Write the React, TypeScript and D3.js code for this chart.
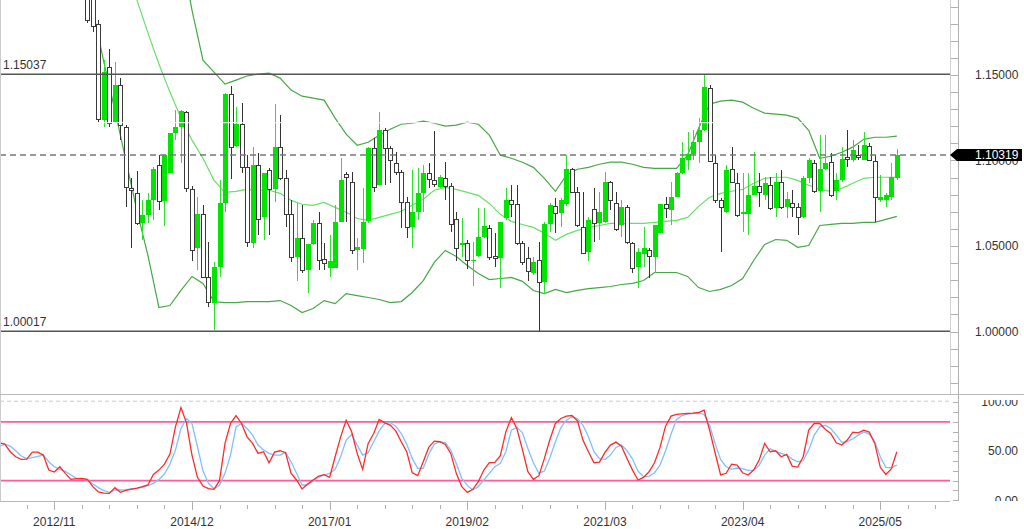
import * as d3 from "d3";

// months are counted from 2012/11 (index 0)
const firstCandle = 6;
const opens = [
  1.2027, 1.1968, 1.1798, 1.1236, 1.1541, 1.1224, 1.1441, 1.1195, 1.0837, 1.0808,
  1.0632, 1.0679, 1.0767, 1.0972, 1.0761, 1.0925, 1.116, 1.1195, 1.1283, 1.0831,
  1.0486, 1.0685, 1.0316, 1.0169, 1.0375, 1.0749, 1.1388, 1.1083, 1.1212, 1.096,
  1.0515, 1.0972, 1.0667, 1.0943, 1.0831, 1.1078, 1.0896, 1.0685, 1.0433, 1.0544,
  1.0357, 1.0509, 1.0632, 1.0421, 1.0369, 1.0369, 1.0638, 1.0919, 1.0873, 1.0474,
  1.048, 1.0644, 1.1072, 1.0855, 1.1177, 1.1072, 1.0984, 1.0931, 1.0755, 1.0609,
  1.0697, 1.0808, 1.0925, 1.0884, 1.0843, 1.0896, 1.0849, 1.0656, 1.0503, 1.0515,
  1.0415, 1.0439, 1.055, 1.0603, 1.0439, 1.0427, 1.0661, 1.0767, 1.0744, 1.0515,
  1.0427, 1.0345, 1.0415, 1.0287, 1.0626, 1.0732, 1.0691, 1.0744, 1.0949, 1.0814,
  1.0609, 1.0462, 1.0714, 1.0632, 1.0638, 1.0873, 1.0749, 1.062, 1.0726, 1.0515,
  1.0375, 1.0456, 1.0474, 1.0433, 1.0574, 1.0744, 1.0708, 1.0785, 1.0925, 1.1001,
  1.1037, 1.1107, 1.1177, 1.1423, 1.0984, 1.0767, 1.0697, 1.0949, 1.0867, 1.0685,
  1.0685, 1.0796, 1.0849, 1.0796, 1.0855, 1.072, 1.0873, 1.0726, 1.0749, 1.0726,
  1.0667, 1.0896, 1.0984, 1.082, 1.0949, 1.099, 1.082, 1.0884, 1.1019, 1.1001,
  1.1031, 1.1001, 1.1083, 1.0996, 1.0767, 1.0767, 1.0785, 1.0896,
];
const highs = [
  1.2086, 1.2009, 1.1822, 1.1587, 1.1652, 1.1576, 1.1482, 1.1207, 1.0896, 1.0937,
  1.0767, 1.0808, 1.096, 1.1031, 1.1031, 1.116, 1.1294, 1.1294, 1.1289, 1.0849,
  1.0785, 1.0738, 1.0521, 1.0404, 1.0884, 1.1394, 1.1435, 1.1312, 1.1335, 1.1031,
  1.1078, 1.1042, 1.0925, 1.0954, 1.133, 1.1265, 1.0943, 1.0767, 1.0749, 1.0738,
  1.0509, 1.065, 1.0697, 1.0515, 1.0562, 1.0738, 1.1013, 1.0931, 1.0931, 1.0544,
  1.0837, 1.1078, 1.113, 1.1283, 1.1189, 1.1083, 1.1048, 1.0943, 1.0785, 1.0943,
  1.0954, 1.0972, 1.0984, 1.1171, 1.0914, 1.099, 1.0867, 1.0697, 1.0661, 1.0533,
  1.0521, 1.072, 1.072, 1.062, 1.0574, 1.0638, 1.0837, 1.0855, 1.0855, 1.0527,
  1.0492, 1.0433, 1.0521, 1.0638, 1.0749, 1.0779, 1.0779, 1.1031, 1.0954, 1.0843,
  1.0814, 1.0667, 1.0837, 1.0814, 1.0931, 1.0878, 1.0814, 1.0767, 1.0738, 1.0521,
  1.0486, 1.0609, 1.0486, 1.062, 1.0744, 1.0785, 1.0873, 1.0931, 1.1107, 1.1165,
  1.1177, 1.1248, 1.1504, 1.1441, 1.1031, 1.0779, 1.0972, 1.1078, 1.0925, 1.0925,
  1.0925, 1.1048, 1.0925, 1.0902, 1.0902, 1.0925, 1.0943, 1.0814, 1.0826, 1.0749,
  1.0908, 1.1013, 1.1001, 1.1148, 1.1148, 1.1042, 1.0925, 1.1078, 1.1177, 1.1119,
  1.1089, 1.1165, 1.1101, 1.1031, 1.0914, 1.0808, 1.0984, 1.1066,
];
const lows = [
  1.1804, 1.1751, 1.1224, 1.1195, 1.1195, 1.1218, 1.1119, 1.0726, 1.0486, 1.062,
  1.0533, 1.0632, 1.065, 1.0708, 1.0615, 1.0925, 1.1119, 1.0984, 1.0814, 1.0415,
  1.0357, 1.031, 1.0146, 1.0008, 1.0316, 1.0697, 1.089, 1.1078, 1.0925, 1.0492,
  1.0486, 1.0562, 1.0533, 1.0562, 1.0755, 1.0884, 1.0609, 1.0404, 1.0298, 1.0345,
  1.0228, 1.0503, 1.0357, 1.0357, 1.0316, 1.0369, 1.0638, 1.0638, 1.0456, 1.0357,
  1.0398, 1.0632, 1.0814, 1.0855, 1.0855, 1.0867, 1.0914, 1.0603, 1.0544, 1.0486,
  1.065, 1.0697, 1.0837, 1.0843, 1.0837, 1.0767, 1.0579, 1.0415, 1.0433, 1.0363,
  1.0269, 1.0433, 1.0544, 1.0421, 1.0375, 1.0257, 1.065, 1.0667, 1.0503, 1.0386,
  1.0298, 1.0333, 1.00017, 1.0222, 1.0579, 1.0574, 1.0609, 1.0732, 1.0808, 1.0609,
  1.0451, 1.0415, 1.0521, 1.0533, 1.0632, 1.0708, 1.0585, 1.055, 1.0509, 1.0345,
  1.0257, 1.0375, 1.031, 1.0345, 1.0574, 1.0661, 1.062, 1.0785, 1.0919, 1.0943,
  1.1001, 1.0984, 1.1171, 1.099, 1.0749, 1.0462, 1.0691, 1.0867, 1.0667, 1.0579,
  1.0562, 1.0796, 1.0726, 1.0767, 1.0708, 1.0667, 1.0714, 1.0661, 1.0667, 1.0562,
  1.0661, 1.0867, 1.0808, 1.0697, 1.0943, 1.0785, 1.0767, 1.0873, 1.096, 1.099,
  1.1001, 1.1001, 1.0996, 1.0638, 1.0755, 1.0726, 1.0767, 1.0884,
];
const closes = [
  1.1816, 1.1781, 1.1242, 1.1517, 1.1218, 1.1441, 1.1207, 1.0843, 1.0826, 1.0632,
  1.0679, 1.0767, 1.0949, 1.0761, 1.1031, 1.116, 1.1195, 1.1289, 1.0837, 1.0474,
  1.0685, 1.0316, 1.0169, 1.0375, 1.0749, 1.1388, 1.1078, 1.1212, 1.096, 1.0521,
  1.0972, 1.0656, 1.0925, 1.0831, 1.1078, 1.0896, 1.0685, 1.0433, 1.0544, 1.0357,
  1.0509, 1.0632, 1.0415, 1.0398, 1.0415, 1.0638, 1.0884, 1.0902, 1.0474, 1.0492,
  1.0638, 1.1072, 1.0843, 1.1177, 1.1072, 1.1001, 1.0931, 1.0755, 1.0609, 1.0697,
  1.0808, 1.0925, 1.089, 1.0861, 1.0902, 1.0849, 1.0626, 1.0486, 1.0515, 1.0415,
  1.0421, 1.055, 1.0615, 1.0433, 1.0427, 1.0638, 1.0767, 1.0744, 1.0515, 1.0404,
  1.0351, 1.0404, 1.0287, 1.0626, 1.0738, 1.0691, 1.0767, 1.0949, 1.0814, 1.062,
  1.0456, 1.065, 1.0632, 1.0697, 1.0873, 1.0767, 1.0597, 1.0726, 1.0521, 1.0369,
  1.0462, 1.0486, 1.0439, 1.062, 1.0744, 1.072, 1.0785, 1.0925, 1.1013, 1.1037,
  1.1107, 1.1177, 1.1429, 1.0996, 1.0767, 1.0726, 1.0943, 1.0873, 1.0679, 1.0697,
  1.0796, 1.0849, 1.0814, 1.0867, 1.072, 1.0873, 1.0726, 1.0773, 1.0726, 1.0667,
  1.0896, 1.1001, 1.082, 1.0949, 1.0984, 1.0796, 1.0884, 1.1007, 1.1007, 1.106,
  1.1019, 1.1089, 1.1001, 1.0785, 1.0785, 1.0796, 1.0902, 1.10319,
];

// bollinger bands, read every second month
const bandFirst = 7;
const bandStep = 2;
const upperBand = [
  1.3404, 1.3287, 1.317, 1.3052, 1.2935, 1.2818, 1.2642, 1.2466, 1.2232, 1.188,
  1.1587, 1.1517, 1.1447, 1.147, 1.1494, 1.1505, 1.1511, 1.1482, 1.1412, 1.1376,
  1.1365, 1.1353, 1.1248, 1.1154, 1.1089, 1.1107, 1.1148, 1.1183, 1.1212, 1.1218,
  1.123, 1.1218, 1.1201, 1.1207, 1.1224, 1.1212, 1.1148, 1.1031, 1.1013, 1.099,
  1.096, 1.0896, 1.082, 1.0914, 1.0949, 1.096, 1.0978, 1.099, 1.099, 1.0978,
  1.096, 1.0954, 1.0954, 1.0954, 1.1031, 1.1189, 1.133, 1.1347, 1.1353, 1.1341,
  1.1306, 1.1277, 1.1271, 1.1265, 1.1248, 1.1177, 1.1013, 1.1025, 1.1048, 1.1078,
  1.1124, 1.1136, 1.1136, 1.1142,
];
const middleBand = [
  1.2759, 1.2525, 1.232, 1.2115, 1.1939, 1.1746, 1.1564, 1.14, 1.1248, 1.1119,
  1.1013, 1.0884, 1.0814, 1.082, 1.0831, 1.0826, 1.0826, 1.0808, 1.0767, 1.0744,
  1.0738, 1.0755, 1.0726, 1.0697, 1.0661, 1.065, 1.0667, 1.0685, 1.0703, 1.0738,
  1.0773, 1.0826, 1.0843, 1.0831, 1.0814, 1.0796, 1.0749, 1.0685, 1.0644, 1.0626,
  1.0609, 1.0574, 1.0533, 1.0568, 1.0591, 1.0609, 1.062, 1.0632, 1.0632, 1.0632,
  1.0632, 1.0638, 1.0644, 1.065, 1.0667, 1.0732, 1.0785, 1.0808, 1.082, 1.0831,
  1.0867, 1.0896, 1.0902, 1.0902, 1.0884, 1.0855, 1.0831, 1.082, 1.0837, 1.0867,
  1.0896, 1.0902, 1.0902, 1.0902,
];
const lowerBand = [
  1.188, 1.1576, 1.1294, 1.1001, 1.0708, 1.0445, 1.014, 1.0152, 1.024, 1.0322,
  1.0281, 1.0175, 1.0169, 1.0169, 1.0175, 1.0175, 1.0175, 1.0181, 1.0152, 1.0111,
  1.0134, 1.0181, 1.0163, 1.0222, 1.021, 1.0199, 1.0187, 1.0169, 1.0175, 1.0228,
  1.0298, 1.0404, 1.0474, 1.0439, 1.0386, 1.0339, 1.0304, 1.031, 1.0316, 1.0293,
  1.024, 1.0222, 1.0246, 1.0228, 1.024, 1.0251, 1.0257, 1.0263, 1.0275, 1.0281,
  1.0298, 1.0345, 1.0345, 1.0345, 1.0322, 1.0257, 1.0234, 1.0246, 1.0269, 1.031,
  1.0415, 1.0509, 1.0538, 1.0533, 1.0492, 1.0503, 1.062, 1.0626, 1.0632, 1.0632,
  1.0638, 1.0638, 1.0656, 1.0673,
];

// stochastic oscillator, one value per month
const stochFirst = -10;
const stochK = [
  58.6, 57.3, 49.5, 44.4, 41.7, 42.0, 49.1, 49.1, 46.1, 30.8,
  28.8, 34.2, 27.5, 21.3, 22.0, 22.4, 21.3, 13.9, 8.5, 7.4,
  7.1, 12.9, 8.1, 10.2, 11.5, 12.5, 13.9, 15.6, 26.4, 30.8,
  36.9, 47.1, 74.9, 94.6, 79.0, 46.1, 23.4, 14.6, 11.9, 11.2,
  20.0, 58.0, 78.3, 86.4, 78.3, 64.7, 58.0, 47.8, 49.5, 38.3,
  49.1, 50.5, 48.5, 27.5, 20.7, 11.5, 16.6, 20.7, 24.7, 26.1,
  23.4, 44.4, 64.7, 81.7, 69.8, 47.8, 31.5, 58.0, 68.1, 82.4,
  79.0, 76.6, 70.8, 59.7, 49.5, 28.1, 25.1, 39.3, 53.9, 60.3,
  59.7, 56.9, 47.8, 27.5, 13.9, 8.1, 11.2, 19.0, 30.8, 38.3,
  38.6, 45.4, 69.8, 84.4, 73.2, 51.9, 29.1, 21.3, 25.1, 42.7,
  62.0, 78.3, 83.4, 85.8, 86.4, 81.0, 61.4, 49.5, 38.3, 39.0,
  48.8, 56.3, 59.3, 55.2, 42.7, 30.8, 20.7, 23.4, 29.1, 38.3,
  53.9, 75.6, 85.8, 87.5, 88.1, 88.5, 88.8, 89.5, 91.9, 71.5,
  48.5, 25.8, 27.5, 36.9, 35.9, 28.1, 25.8, 30.8, 41.0, 58.0,
  49.5, 50.5, 44.4, 46.8, 34.9, 33.9, 44.4, 71.5, 78.3, 78.3,
  72.5, 68.1, 58.6, 56.3, 61.4, 69.5, 68.8, 71.5, 69.5, 58.0,
  33.6, 26.4, 31.9, 49.5,
];
const stochD = [
  54.6, 57.3, 55.2, 50.5, 45.1, 42.4, 43.4, 44.7, 46.1, 39.3,
  34.2, 31.5, 29.5, 26.1, 22.4, 21.7, 21.0, 16.6, 12.9, 9.8,
  8.1, 10.5, 10.5, 10.8, 11.5, 12.2, 13.2, 14.9, 17.3, 21.3,
  26.8, 36.9, 51.2, 73.2, 83.4, 78.3, 54.6, 29.8, 17.3, 11.9,
  15.2, 27.5, 46.1, 74.9, 78.3, 73.2, 66.4, 56.3, 51.2, 47.8,
  46.1, 46.1, 48.8, 39.3, 27.5, 15.6, 15.6, 20.0, 23.4, 25.8,
  27.5, 31.5, 44.4, 61.4, 67.1, 56.3, 46.1, 48.5, 59.7, 70.8,
  78.3, 79.3, 75.6, 68.1, 57.3, 42.7, 32.5, 32.5, 46.8, 57.3,
  59.7, 58.6, 51.2, 37.6, 22.4, 15.2, 10.5, 13.9, 20.7, 27.5,
  34.2, 37.6, 49.5, 71.5, 74.2, 69.1, 52.9, 38.3, 27.5, 29.8,
  43.4, 59.7, 74.2, 81.7, 85.1, 83.4, 76.6, 64.7, 49.5, 42.4,
  41.7, 46.1, 53.9, 56.3, 50.5, 42.0, 29.8, 24.1, 24.4, 28.1,
  35.9, 50.2, 67.5, 82.4, 86.4, 88.1, 88.5, 89.1, 87.5, 76.6,
  58.0, 41.7, 34.2, 31.5, 32.9, 32.2, 30.5, 30.8, 35.6, 46.1,
  52.5, 49.8, 47.8, 46.1, 42.0, 39.3, 40.3, 51.2, 66.4, 74.9,
  76.6, 73.2, 66.4, 59.0, 59.7, 62.7, 66.4, 69.8, 67.5, 59.7,
  44.4, 33.6, 33.2, 35.9,
];
const stochLevels = [20, 80];

const dateLabels = ["2012/11", "2014/12", "2017/01", "2019/02", "2021/03", "2023/04", "2025/05"];
const dateLabelMonths = [0, 25, 50, 75, 100, 125, 150];
const priceLabels = [1.0, 1.05, 1.1, 1.15];
const stochLabels = [0, 50, 100];
const highLevel = 1.15037;
const lowLevel = 1.00017;
const lastPrice = 1.10319;
const markerLevel = 1.1221;

const W = 1024;
const H = 529;
const plotRight = 950;
const axisX = 958.5;
const mainBottom = 394;
const subTop = 396;
const subBottom = 501;
const font = "'Liberation Sans', Arial, sans-serif";

const App = () => {
  const x = d3.scaleLinear().domain([0, 150]).range([54.3, 880.3]);
  const y = d3.scaleLinear().domain([1.0, 1.15]).range([331.5, 75]);
  const ys = d3.scaleLinear().domain([0, 100]).range([500.3, 402.2]);

  const band = d3
    .line<number>()
    .x((_, i) => x(bandFirst + i * bandStep))
    .y((d) => y(d));
  const stoch = d3
    .line<number>()
    .x((_, i) => x(stochFirst + i))
    .y((d) => ys(d));

  const minorTimes = d3.range(-5, 161, 5).filter((m) => !dateLabelMonths.includes(m));
  const priceTicks = d3.range(97, 120).map((v) => v / 100);
  const stochTicks = d3.range(0, 101, 10);

  return (
    <svg
      width={W}
      height={H}
      viewBox={`0 0 ${W} ${H}`}
      style={{ position: "fixed", left: 0, top: 0, background: "#fff", fontFamily: font }}
    >
      <defs>
        <clipPath id="main">
          <rect x={0} y={0} width={plotRight} height={mainBottom} />
        </clipPath>
        <clipPath id="sub">
          <rect x={0} y={subTop} width={plotRight} height={subBottom - subTop} />
        </clipPath>
        <clipPath id="subAxis">
          <rect x={plotRight} y={400} width={W - plotRight} height={subBottom - 400} />
        </clipPath>
      </defs>
      <rect width={W} height={H} fill="#fff" />

      {/* main price panel */}
      <g clipPath="url(#main)">
        <path d={band(upperBand) ?? ""} fill="none" stroke="#46a846" strokeWidth={1.2} />
        <path d={band(lowerBand) ?? ""} fill="none" stroke="#46a846" strokeWidth={1.2} />
        <path d={band(middleBand) ?? ""} fill="none" stroke="#66e066" strokeWidth={1.2} />

        <g>
          {opens.map((o, i) => {
            const m = firstCandle + i;
            const cx = Math.round(x(m));
            const c = closes[i];
            const up = c >= o;
            const top = y(Math.max(o, c));
            const h = Math.max(1, y(Math.min(o, c)) - top);
            return (
              <g key={m} shapeRendering="crispEdges">
                <line
                  x1={cx + 0.5}
                  x2={cx + 0.5}
                  y1={y(highs[i])}
                  y2={y(lows[i])}
                  stroke={up ? "#2ee02e" : "#333"}
                  strokeWidth={1}
                />
                {up ? (
                  <rect x={cx - 2} y={top} width={5} height={h} fill="#00e400" />
                ) : (
                  <rect x={cx - 1.5} y={top} width={4} height={h} fill="#fff" stroke="#3a3a3a" strokeWidth={1} />
                )}
              </g>
            );
          })}
        </g>

        <line x1={0} x2={plotRight} y1={y(markerLevel)} y2={y(markerLevel)} stroke="#fff" strokeWidth={1} />
        <line x1={0} x2={plotRight} y1={y(highLevel)} y2={y(highLevel)} stroke="#555" strokeWidth={1.5} />
        <line x1={0} x2={plotRight} y1={y(lowLevel)} y2={y(lowLevel)} stroke="#555" strokeWidth={1.5} />
        <line
          x1={0}
          x2={plotRight}
          y1={y(lastPrice)}
          y2={y(lastPrice)}
          stroke="#777"
          strokeWidth={1.5}
          strokeDasharray="6,4"
        />
        <text x={3} y={y(highLevel) - 5} fontSize={12} fill="#333">
          {highLevel.toFixed(5)}
        </text>
        <text x={3} y={y(lowLevel) - 5} fontSize={12} fill="#333">
          {lowLevel.toFixed(5)}
        </text>
      </g>

      {/* stochastic panel */}
      <g clipPath="url(#sub)">
        <line x1={0} x2={plotRight} y1={ys(100) - 1} y2={ys(100) - 1} stroke="#c8c8c8" strokeDasharray="4,3" />
        {stochLevels.map((l) => (
          <line key={l} x1={0} x2={plotRight} y1={ys(l)} y2={ys(l)} stroke="#ff5c98" strokeWidth={1.8} />
        ))}
        <path d={stoch(stochD) ?? ""} fill="none" stroke="#80c0ff" strokeWidth={1.3} />
        <path d={stoch(stochK) ?? ""} fill="none" stroke="#ff2a2a" strokeWidth={1.3} />
      </g>

      {/* frames */}
      <line x1={0.5} x2={0.5} y1={0} y2={subBottom} stroke="#ccc" />
      <line x1={plotRight + 0.5} x2={plotRight + 0.5} y1={0} y2={mainBottom} stroke="#d0d0d0" />
      <line x1={axisX} x2={axisX} y1={0} y2={subBottom} stroke="#b0b0b0" />
      <line x1={0} x2={W} y1={mainBottom + 0.5} y2={mainBottom + 0.5} stroke="#b8b8b8" />
      <line x1={0} x2={plotRight} y1={subBottom + 0.5} y2={subBottom + 0.5} stroke="#b8b8b8" />

      {/* price axis */}
      <g shapeRendering="crispEdges">
        {priceTicks.map((p) => (
          <line key={p} x1={951} x2={axisX} y1={Math.round(y(p)) + 0.5} y2={Math.round(y(p)) + 0.5} stroke="#b0b0b0" />
        ))}
      </g>
      {priceLabels.map((p) => (
        <text key={p} x={975} y={y(p)} dy="0.35em" fontSize={12} fill="#333">
          {p.toFixed(5)}
        </text>
      ))}
      <path
        d={`M${plotRight},${y(lastPrice)} L${plotRight + 7},${y(lastPrice) - 6} L${W - 2},${y(lastPrice) - 6} L${W - 2},${y(lastPrice) + 6} L${plotRight + 7},${y(lastPrice) + 6} Z`}
        fill="#000"
      />
      <text x={975} y={y(lastPrice)} dy="0.35em" fontSize={12} fill="#fff">
        {lastPrice.toFixed(5)}
      </text>

      {/* stochastic axis */}
      <g shapeRendering="crispEdges">
        {stochTicks.map((t) => (
          <line key={t} x1={953} x2={axisX} y1={Math.round(ys(t)) + 0.5} y2={Math.round(ys(t)) + 0.5} stroke="#b0b0b0" />
        ))}
      </g>
      <g clipPath="url(#subAxis)">
        {stochLabels.map((t) => (
          <text key={t} x={1018} y={ys(t)} dy="0.35em" fontSize={12} fill="#333" textAnchor="end">
            {t.toFixed(2)}
          </text>
        ))}
      </g>

      {/* time axis */}
      <g shapeRendering="crispEdges">
        {dateLabelMonths.map((m) => (
          <line key={m} x1={Math.round(x(m)) + 0.5} x2={Math.round(x(m)) + 0.5} y1={subBottom} y2={510} stroke="#b0b0b0" />
        ))}
        {minorTimes.map((m) => (
          <line key={m} x1={Math.round(x(m)) + 0.5} x2={Math.round(x(m)) + 0.5} y1={505} y2={509} stroke="#b0b0b0" />
        ))}
      </g>
      {dateLabels.map((d, i) => (
        <text key={d} x={x(dateLabelMonths[i])} y={526} fontSize={12} fill="#333" textAnchor="middle">
          {d}
        </text>
      ))}
    </svg>
  );
};

export default App;
